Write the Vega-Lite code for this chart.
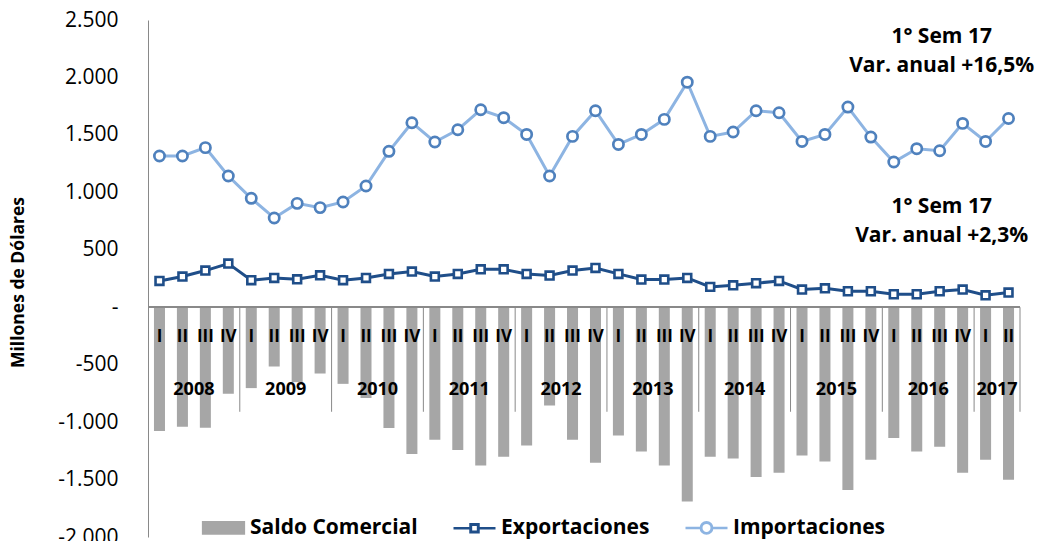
{
  "$schema": "https://vega.github.io/schema/vega-lite/v6.json",
  "autosize": {"type": "none"},
  "padding": {"left": 148, "top": 20, "right": 18, "bottom": 4},
  "width": 872,
  "height": 517,
  "background": "white",
  "config": {
    "view": {"stroke": null},
    "font": "Open Sans"
  },
  "datasets": {
    "q": [
      {"q": "2008-I", "t": "I", "saldo": -1078, "exp": 229, "imp": 1316},
      {"q": "2008-II", "t": "II", "saldo": -1041, "exp": 267, "imp": 1316},
      {"q": "2008-III", "t": "III", "saldo": -1049, "exp": 319, "imp": 1389},
      {"q": "2008-IV", "t": "IV", "saldo": -754, "exp": 380, "imp": 1142},
      {"q": "2009-I", "t": "I", "saldo": -704, "exp": 235, "imp": 948},
      {"q": "2009-II", "t": "II", "saldo": -516, "exp": 255, "imp": 777},
      {"q": "2009-III", "t": "III", "saldo": -652, "exp": 243, "imp": 904},
      {"q": "2009-IV", "t": "IV", "saldo": -577, "exp": 278, "imp": 867},
      {"q": "2010-I", "t": "I", "saldo": -667, "exp": 235, "imp": 916},
      {"q": "2010-II", "t": "II", "saldo": -791, "exp": 255, "imp": 1055},
      {"q": "2010-III", "t": "III", "saldo": -1052, "exp": 290, "imp": 1357},
      {"q": "2010-IV", "t": "IV", "saldo": -1278, "exp": 310, "imp": 1606},
      {"q": "2011-I", "t": "I", "saldo": -1154, "exp": 267, "imp": 1438},
      {"q": "2011-II", "t": "II", "saldo": -1243, "exp": 290, "imp": 1545},
      {"q": "2011-III", "t": "III", "saldo": -1377, "exp": 330, "imp": 1719},
      {"q": "2011-IV", "t": "IV", "saldo": -1301, "exp": 330, "imp": 1650},
      {"q": "2012-I", "t": "I", "saldo": -1203, "exp": 290, "imp": 1504},
      {"q": "2012-II", "t": "II", "saldo": -855, "exp": 276, "imp": 1142},
      {"q": "2012-III", "t": "III", "saldo": -1154, "exp": 319, "imp": 1487},
      {"q": "2012-IV", "t": "IV", "saldo": -1354, "exp": 342, "imp": 1710},
      {"q": "2013-I", "t": "I", "saldo": -1116, "exp": 290, "imp": 1417},
      {"q": "2013-II", "t": "II", "saldo": -1255, "exp": 241, "imp": 1504},
      {"q": "2013-III", "t": "III", "saldo": -1377, "exp": 241, "imp": 1635},
      {"q": "2013-IV", "t": "IV", "saldo": -1690, "exp": 255, "imp": 1959},
      {"q": "2014-I", "t": "I", "saldo": -1301, "exp": 177, "imp": 1487},
      {"q": "2014-II", "t": "II", "saldo": -1316, "exp": 191, "imp": 1525},
      {"q": "2014-III", "t": "III", "saldo": -1478, "exp": 209, "imp": 1710},
      {"q": "2014-IV", "t": "IV", "saldo": -1441, "exp": 229, "imp": 1693},
      {"q": "2015-I", "t": "I", "saldo": -1290, "exp": 154, "imp": 1443},
      {"q": "2015-II", "t": "II", "saldo": -1342, "exp": 165, "imp": 1504},
      {"q": "2015-III", "t": "III", "saldo": -1591, "exp": 139, "imp": 1742},
      {"q": "2015-IV", "t": "IV", "saldo": -1328, "exp": 139, "imp": 1481},
      {"q": "2016-I", "t": "I", "saldo": -1139, "exp": 113, "imp": 1264},
      {"q": "2016-II", "t": "II", "saldo": -1255, "exp": 113, "imp": 1380},
      {"q": "2016-III", "t": "III", "saldo": -1215, "exp": 139, "imp": 1362},
      {"q": "2016-IV", "t": "IV", "saldo": -1441, "exp": 154, "imp": 1600},
      {"q": "2017-I", "t": "I", "saldo": -1328, "exp": 104, "imp": 1443},
      {"q": "2017-II", "t": "II", "saldo": -1502, "exp": 128, "imp": 1643}
    ],
    "years": [
      {"q": "2008-II", "year": "2008"},
      {"q": "2009-II", "year": "2009"},
      {"q": "2010-II", "year": "2010"},
      {"q": "2011-II", "year": "2011"},
      {"q": "2012-II", "year": "2012"},
      {"q": "2013-II", "year": "2013"},
      {"q": "2014-II", "year": "2014"},
      {"q": "2015-II", "year": "2015"},
      {"q": "2016-II", "year": "2016"},
      {"q": "2017-I", "year": "2017"}
    ],
    "seps": [
      {"q": "2009-I"}, {"q": "2010-I"}, {"q": "2011-I"}, {"q": "2012-I"}, {"q": "2013-I"},
      {"q": "2014-I"}, {"q": "2015-I"}, {"q": "2016-I"}, {"q": "2017-I"}
    ],
    "notes": [
      {"q": "2016-III", "label": "1° Sem 17", "v": 2350},
      {"q": "2016-III", "label": "Var. anual +16,5%", "v": 2098},
      {"q": "2016-III", "label": "1° Sem 17", "v": 872},
      {"q": "2016-III", "label": "Var. anual +2,3%", "v": 620}
    ]
  },
  "layer": [
    {
      "data": {"name": "q"},
      "mark": {"type": "bar", "width": {"band": 0.48}},
      "encoding": {
        "x": {"field": "q", "type": "nominal", "sort": null, "axis": null,
              "scale": {"paddingInner": 0, "paddingOuter": 0}},
        "y": {"field": "saldo", "type": "quantitative",
              "scale": {"domain": [-2000, 2500], "nice": false, "zero": false},
              "axis": {
                "values": [-2000, -1500, -1000, -500, 0, 500, 1000, 1500, 2000, 2500],
                "grid": false, "ticks": false, "domain": true, "domainColor": "#898989", "domainWidth": 1,
                "labelFont": "Open Sans", "labelFontSize": 21, "labelColor": "#000000", "labelPadding": 30,
                "labelExpr": "datum.value == 0 ? '-\u00a0\u00a0' : replace(replace(format(datum.value, ','), ',', '.'), '\u2212', '-')",
                "title": "Millones de Dólares", "titleFont": "Open Sans", "titleFontSize": 17.5, "titleFontWeight": "bold",
                "titleColor": "#000000", "titleX": -130, "titleY": 262, "titleAngle": -90, "titleAlign": "center", "titleBaseline": "middle"
              }},
        "y2": {"datum": 0},
        "color": {"datum": "Saldo Comercial", "type": "nominal",
          "scale": {"domain": ["Saldo Comercial", "Exportaciones", "Importaciones"], "range": ["#A6A6A6", "#1F4E89", "#8DB4E2"]},
          "legend": {
            "title": null, "orient": "none", "legendX": 53, "legendY": 485, "direction": "horizontal",
            "symbolSize": 1764, "labelFont": "Open Sans", "labelFontSize": 21, "labelFontWeight": "bold",
            "labelColor": "#000000", "labelOffset": 4, "columnPadding": 30, "labelLimit": 0,
            "encode": {
              "symbols": {"update": {
                "shape": {"signal": "datum.value === 'Saldo Comercial' ? 'M-0.97,-0.27H0.97V0.27H-0.97Z' : datum.value === 'Exportaciones' ? 'M-1,0H-0.19M0.19,0H1M-0.19,-0.19H0.19V0.19H-0.19ZM-0.17,-0.17V0.17H0.17V-0.17Z' : 'M-1,0H-0.27M0.27,0H1M-0.27,0A0.27,0.27 0 1,0 0.27,0A0.27,0.27 0 1,0 -0.27,0ZM-0.25,0A0.25,0.25 0 1,1 0.25,0A0.25,0.25 0 1,1 -0.25,0Z'"},
                "strokeWidth": {"value": 2.5},
                "opacity": {"value": 1}
              }}
            }
          }}
      }
    },
    {
      "data": {"name": "q"},
      "mark": {"type": "rule", "color": "#898989", "strokeWidth": 1},
      "encoding": {"y": {"datum": 0}}
    },
    {
      "data": {"name": "seps"},
      "mark": {"type": "rule", "color": "#898989", "strokeWidth": 1},
      "encoding": {
        "x": {"field": "q", "type": "nominal", "sort": null, "bandPosition": 0},
        "y": {"datum": 0},
        "y2": {"datum": -910}
      }
    },
    {
      "data": {"values": [{"q": "2017-II"}]},
      "mark": {"type": "rule", "color": "#898989", "strokeWidth": 1},
      "encoding": {
        "x": {"field": "q", "type": "nominal", "sort": null, "bandPosition": 1},
        "y": {"datum": 0},
        "y2": {"datum": -910}
      }
    },
    {
      "data": {"name": "q"},
      "mark": {"type": "line", "strokeWidth": 3},
      "encoding": {
        "x": {"field": "q", "type": "nominal", "sort": null},
        "y": {"field": "exp", "type": "quantitative"},
        "color": {"datum": "Exportaciones", "type": "nominal"}
      }
    },
    {
      "data": {"name": "q"},
      "mark": {"type": "point", "shape": "square", "filled": true, "fill": "#ffffff", "stroke": "#1F4E89", "strokeWidth": 2.6, "size": 62, "opacity": 1},
      "encoding": {
        "x": {"field": "q", "type": "nominal", "sort": null},
        "y": {"field": "exp", "type": "quantitative"}
      }
    },
    {
      "data": {"name": "q"},
      "mark": {"type": "line", "strokeWidth": 3},
      "encoding": {
        "x": {"field": "q", "type": "nominal", "sort": null},
        "y": {"field": "imp", "type": "quantitative"},
        "color": {"datum": "Importaciones", "type": "nominal"}
      }
    },
    {
      "data": {"name": "q"},
      "mark": {"type": "point", "shape": "circle", "filled": true, "fill": "#ffffff", "stroke": "#4F81BD", "strokeWidth": 2.7, "size": 105, "opacity": 1},
      "encoding": {
        "x": {"field": "q", "type": "nominal", "sort": null},
        "y": {"field": "imp", "type": "quantitative"}
      }
    },
    {
      "data": {"name": "q"},
      "mark": {"type": "text", "font": "Open Sans", "fontSize": 17, "fontWeight": "bold", "color": "#000000", "baseline": "middle", "align": "center"},
      "encoding": {
        "x": {"field": "q", "type": "nominal", "sort": null},
        "y": {"datum": -261},
        "text": {"field": "t"}
      }
    },
    {
      "data": {"name": "years"},
      "mark": {"type": "text", "font": "Open Sans", "fontSize": 18, "fontWeight": "bold", "color": "#000000", "baseline": "middle", "align": "center"},
      "encoding": {
        "x": {"field": "q", "type": "nominal", "sort": null, "bandPosition": 1},
        "y": {"datum": -722},
        "text": {"field": "year"}
      }
    },
    {
      "data": {"name": "notes"},
      "mark": {"type": "text", "font": "Open Sans", "fontSize": 21, "fontWeight": "bold", "color": "#000000", "baseline": "middle", "align": "center", "dx": 2},
      "encoding": {
        "x": {"field": "q", "type": "nominal", "sort": null},
        "y": {"field": "v", "type": "quantitative"},
        "text": {"field": "label"}
      }
    }
  ]
}
